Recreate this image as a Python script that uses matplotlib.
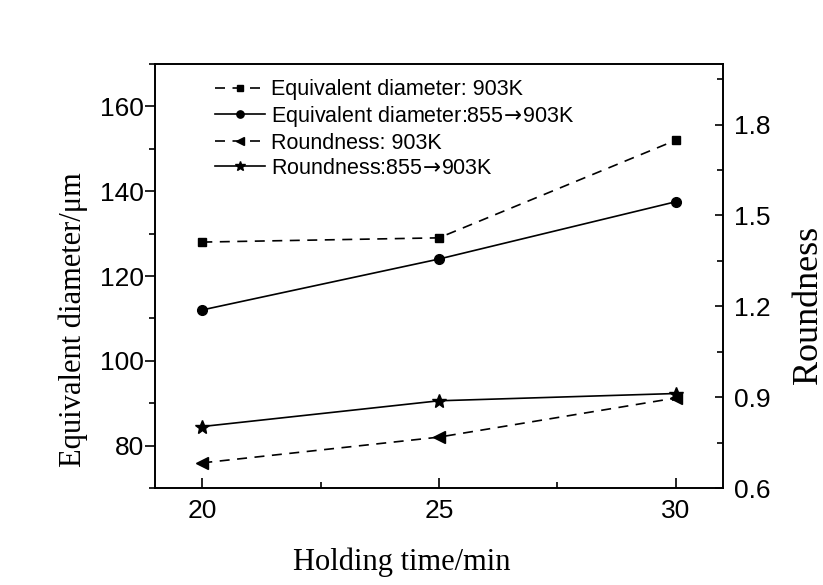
import matplotlib
matplotlib.use('Agg')
import matplotlib.pyplot as plt
from matplotlib.ticker import MultipleLocator

# data
holding_time = [20, 25, 30]
diam_903 = [128.0, 129.0, 152.0]
diam_855_903 = [112.0, 124.0, 137.5]
round_903 = [0.683, 0.768, 0.897]
round_855_903 = [0.803, 0.888, 0.912]

labels = ['Equivalent diameter: 903K',
          'Equivalent diameter:855$\\!\\rightarrow\\!$903K',
          'Roundness: 903K',
          'Roundness:855$\\!\\rightarrow\\!$903K']

sans = ['Liberation Sans', 'DejaVu Sans']
serif = ['Liberation Serif', 'DejaVu Serif']

plt.rcParams['mathtext.fontset'] = 'dejavusans'

fig = plt.figure(figsize=(8.23, 5.85), dpi=100)
ax = fig.add_axes([0.1883, 0.1658, 0.69, 0.7248])
ax2 = ax.twinx()

lw = 1.2
dash = (6, 4.5)

l1, = ax.plot(holding_time, diam_903, color='black', lw=lw, ls='--', dashes=dash,
              marker='s', ms=6, label=labels[0])
l2, = ax.plot(holding_time, diam_855_903, color='black', lw=lw, ls='-',
              marker='o', ms=7, label=labels[1])
l3, = ax2.plot(holding_time, round_903, color='black', lw=lw, ls='--', dashes=dash,
               marker='<', ms=8, label=labels[2])
l4, = ax2.plot(holding_time, round_855_903, color='black', lw=lw, ls='-',
               marker='*', ms=10, label=labels[3])

ax.set_xlim(19, 31)
ax.set_ylim(70, 170)
ax2.set_ylim(0.6, 2.0)

ax.xaxis.set_major_locator(MultipleLocator(5))
ax.xaxis.set_minor_locator(MultipleLocator(2.5))
ax.yaxis.set_major_locator(MultipleLocator(20))
ax.yaxis.set_minor_locator(MultipleLocator(10))
ax2.yaxis.set_minor_locator(MultipleLocator(0.15))
ax2.set_yticks([0.6, 0.9, 1.2, 1.5, 1.8])
ax2.set_yticklabels(['0.6', '0.9', '1.2', '1.5', '1.8'])

ax.tick_params(axis='x', which='both', direction='in', top=False, width=1.2, pad=8)
ax.tick_params(axis='x', which='major', length=7)
ax.tick_params(axis='x', which='minor', length=4)
ax.tick_params(axis='y', which='both', direction='out', width=1.2, pad=1)
ax.tick_params(axis='y', which='major', length=7)
ax.tick_params(axis='y', which='minor', length=4)
ax2.tick_params(axis='y', which='both', direction='in', width=1.2, pad=8)
ax2.tick_params(axis='y', which='major', length=6)
ax2.tick_params(axis='y', which='minor', length=4)

for a in (ax, ax2):
    for s in a.spines.values():
        s.set_linewidth(1.2)
    for t in a.get_xticklabels() + a.get_yticklabels():
        t.set_fontfamily(sans)
        t.set_fontsize(19)

ax.set_xlabel('Holding time/min', fontsize=22, family=serif)
ax.set_ylabel('Equivalent diameter/\u03bcm', fontsize=22, family=serif)
ax2.set_ylabel('Roundness', fontsize=26, family=serif)
ax.xaxis.set_label_coords(0.435, -0.14)
ax.yaxis.set_label_coords(-0.118, 0.396)
ax2.yaxis.set_label_coords(1.121, 0.432)

leg = ax.legend(handles=[l1, l2, l3, l4], loc='upper left', frameon=False,
                prop={'family': sans, 'size': 15.5}, handlelength=2.3,
                handletextpad=0.3, labelspacing=0.18, markerscale=0.75,
                bbox_to_anchor=(0.08, 1.0), borderaxespad=0.3)

fig.savefig('out.png', dpi=100)
